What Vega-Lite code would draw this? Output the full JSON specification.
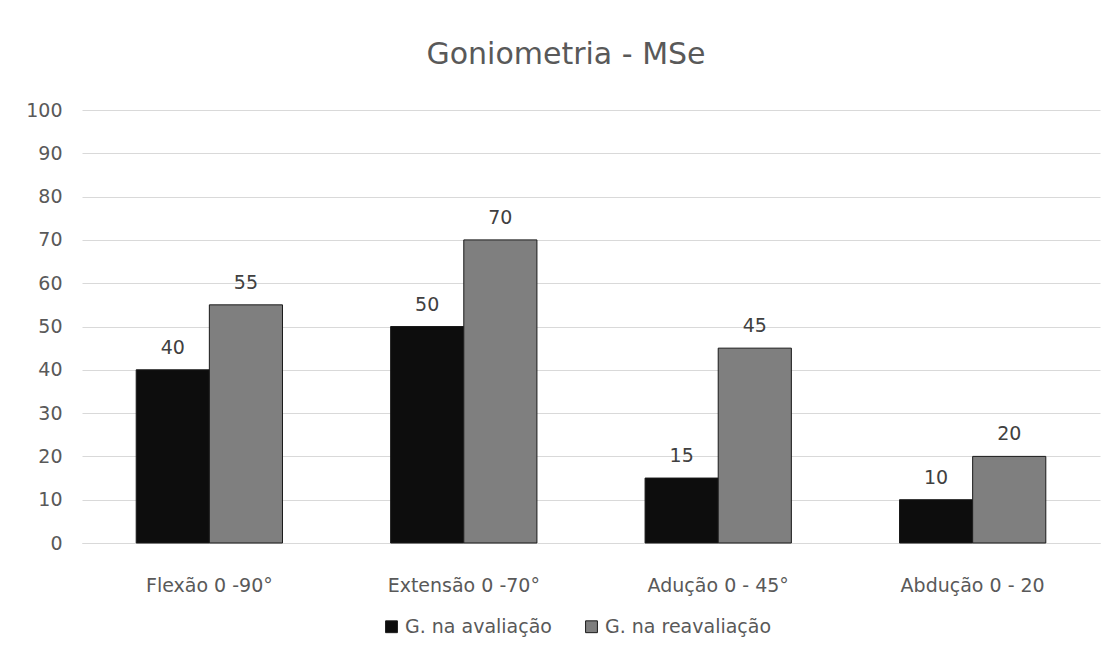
{
  "$schema": "https://vega.github.io/schema/vega-lite/v6.json",
  "width": 1018,
  "height": 433,
  "autosize": {"type": "none"},
  "padding": {"left": 82, "top": 110, "right": 15, "bottom": 116},
  "background": "white",
  "title": {"text": "Goniometria - MSe", "fontSize": 30, "fontWeight": "normal", "font": "DejaVu Sans", "color": "#595959", "offset": 31, "dx": -25},
  "config": {"view": {"stroke": null}, "font": "DejaVu Sans"},
  "data": {"values": [
    {"mov": "Flexão 0 -90°", "serie": "G. na avaliação", "valor": 40},
    {"mov": "Flexão 0 -90°", "serie": "G. na reavaliação", "valor": 55},
    {"mov": "Extensão 0 -70°", "serie": "G. na avaliação", "valor": 50},
    {"mov": "Extensão 0 -70°", "serie": "G. na reavaliação", "valor": 70},
    {"mov": "Adução 0 - 45°", "serie": "G. na avaliação", "valor": 15},
    {"mov": "Adução 0 - 45°", "serie": "G. na reavaliação", "valor": 45},
    {"mov": "Abdução 0 - 20", "serie": "G. na avaliação", "valor": 10},
    {"mov": "Abdução 0 - 20", "serie": "G. na reavaliação", "valor": 20}
  ]},
  "encoding": {
    "x": {"field": "mov", "type": "nominal", "sort": null,
      "scale": {"paddingInner": 0.425, "paddingOuter": 0.213},
      "axis": {"title": null, "labelAngle": 0, "ticks": false, "labelPadding": 33, "labelFontSize": 19, "labelColor": "#595959", "domainColor": "#d9d9d9", "labelFont": "DejaVu Sans"}},
    "xOffset": {"field": "serie", "type": "nominal", "sort": null},
    "y": {"field": "valor", "type": "quantitative",
      "scale": {"domain": [0, 100]},
      "axis": {"title": null, "values": [0,10,20,30,40,50,60,70,80,90,100], "ticks": false, "domain": false, "labelPadding": 20, "labelFontSize": 19, "labelColor": "#595959", "gridColor": "#d9d9d9", "labelFont": "DejaVu Sans"}}
  },
  "layer": [
    {"mark": {"type": "bar", "stroke": "#1a1a1a", "strokeWidth": 1},
     "encoding": {"color": {"field": "serie", "type": "nominal", "sort": null,
        "scale": {"range": ["#0d0d0d", "#7f7f7f"]},
        "legend": {"title": null, "orient": "none", "legendX": 300, "legendY": 507, "direction": "horizontal", "symbolType": "square", "symbolSize": 140, "symbolStrokeColor": "#1a1a1a", "symbolStrokeWidth": 1, "labelFontSize": 19, "labelColor": "#595959", "labelLimit": 400, "columnPadding": 30, "labelOffset": 4, "labelFont": "DejaVu Sans"}}}},
    {"mark": {"type": "text", "dy": -22, "fontSize": 19, "color": "#404040", "font": "DejaVu Sans"},
     "encoding": {"text": {"field": "valor", "type": "quantitative"}}}
  ]
}
